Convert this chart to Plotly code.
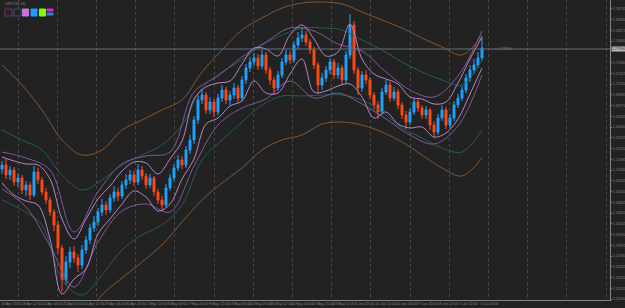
import plotly.graph_objects as go

# ---------------- data ----------------
open_ = [1.2550,1.2558,1.2538,1.2548,1.2524,1.2532,1.2508,1.2518,1.2498,1.2544,
         1.2528,1.2504,1.2488,1.2464,1.2438,1.2392,1.2328,1.2364,1.2384,1.2372,
         1.2358,1.2388,1.2408,1.2432,1.2444,1.2464,1.2478,1.2468,1.2492,1.2504,
         1.2496,1.2518,1.2528,1.2538,1.2524,1.2548,1.2536,1.2518,1.2532,1.2504,
         1.2488,1.2478,1.2512,1.2532,1.2552,1.2568,1.2558,1.2588,1.2608,1.2648,
         1.2688,1.2698,1.2668,1.2684,1.2664,1.2692,1.2708,1.2688,1.2698,1.2712,
         1.2692,1.2728,1.2752,1.2764,1.2772,1.2756,1.2778,1.2748,1.2728,1.2712,
         1.2738,1.2764,1.2778,1.2768,1.2798,1.2812,1.2818,1.2804,1.2788,1.2758,
         1.2718,1.2732,1.2748,1.2764,1.2738,1.2752,1.2728,1.2778,1.2838,1.2748,
         1.2712,1.2738,1.2728,1.2698,1.2678,1.2664,1.2704,1.2718,1.2692,1.2704,
         1.2678,1.2658,1.2644,1.2664,1.2684,1.2672,1.2658,1.2668,1.2638,1.2624,
         1.2652,1.2668,1.2638,1.2652,1.2678,1.2692,1.2708,1.2732,1.2748,1.2758,
         1.2772]
high = [1.2566,1.2570,1.2556,1.2554,1.2542,1.2538,1.2526,1.2524,1.2556,1.2552,
        1.2534,1.2512,1.2494,1.2470,1.2446,1.2398,1.2376,1.2394,1.2396,1.2380,
        1.2398,1.2416,1.2440,1.2456,1.2472,1.2490,1.2486,1.2500,1.2516,1.2512,
        1.2526,1.2540,1.2548,1.2546,1.2560,1.2556,1.2542,1.2540,1.2536,1.2510,
        1.2496,1.2520,1.2540,1.2560,1.2578,1.2576,1.2596,1.2618,1.2656,1.2698,
        1.2710,1.2704,1.2694,1.2690,1.2700,1.2718,1.2714,1.2706,1.2722,1.2718,
        1.2736,1.2760,1.2774,1.2782,1.2780,1.2788,1.2784,1.2754,1.2734,1.2746,
        1.2772,1.2788,1.2786,1.2806,1.2824,1.2834,1.2826,1.2810,1.2794,1.2764,
        1.2742,1.2756,1.2772,1.2770,1.2762,1.2758,1.2786,1.2860,1.2846,1.2754,
        1.2746,1.2748,1.2734,1.2704,1.2686,1.2712,1.2728,1.2724,1.2714,1.2710,
        1.2684,1.2666,1.2672,1.2692,1.2690,1.2678,1.2676,1.2672,1.2646,1.2660,
        1.2678,1.2674,1.2660,1.2686,1.2700,1.2716,1.2740,1.2758,1.2770,1.2784,
        1.2812]
low = [1.2540,1.2530,1.2528,1.2516,1.2514,1.2500,1.2496,1.2488,1.2494,1.2520,
       1.2498,1.2480,1.2456,1.2426,1.2380,1.2304,1.2318,1.2352,1.2362,1.2344,
       1.2350,1.2380,1.2400,1.2424,1.2436,1.2456,1.2458,1.2462,1.2484,1.2486,
       1.2490,1.2510,1.2520,1.2516,1.2518,1.2528,1.2510,1.2512,1.2496,1.2480,
       1.2468,1.2472,1.2506,1.2526,1.2546,1.2550,1.2552,1.2580,1.2600,1.2640,
       1.2680,1.2660,1.2660,1.2654,1.2658,1.2684,1.2680,1.2678,1.2690,1.2684,
       1.2686,1.2720,1.2744,1.2756,1.2748,1.2750,1.2740,1.2718,1.2700,1.2706,
       1.2732,1.2758,1.2760,1.2762,1.2790,1.2804,1.2796,1.2780,1.2750,1.2700,
       1.2708,1.2724,1.2740,1.2730,1.2730,1.2718,1.2722,1.2770,1.2740,1.2698,
       1.2704,1.2720,1.2690,1.2668,1.2650,1.2658,1.2698,1.2684,1.2686,1.2670,
       1.2650,1.2630,1.2638,1.2658,1.2664,1.2650,1.2650,1.2628,1.2612,1.2618,
       1.2646,1.2630,1.2632,1.2646,1.2672,1.2686,1.2702,1.2724,1.2740,1.2752,
       1.2766]
close = [1.2558,1.2538,1.2548,1.2524,1.2532,1.2508,1.2518,1.2498,1.2544,1.2528,
         1.2504,1.2488,1.2464,1.2438,1.2392,1.2328,1.2364,1.2384,1.2372,1.2358,
         1.2388,1.2408,1.2432,1.2444,1.2464,1.2478,1.2468,1.2492,1.2504,1.2496,
         1.2518,1.2528,1.2538,1.2524,1.2548,1.2536,1.2518,1.2532,1.2504,1.2488,
         1.2478,1.2512,1.2532,1.2552,1.2568,1.2558,1.2588,1.2608,1.2648,1.2688,
         1.2698,1.2668,1.2684,1.2664,1.2692,1.2708,1.2688,1.2698,1.2712,1.2692,
         1.2728,1.2752,1.2764,1.2772,1.2756,1.2778,1.2748,1.2728,1.2712,1.2738,
         1.2764,1.2778,1.2768,1.2798,1.2812,1.2818,1.2804,1.2788,1.2758,1.2718,
         1.2732,1.2748,1.2764,1.2738,1.2752,1.2728,1.2778,1.2838,1.2748,1.2712,
         1.2738,1.2728,1.2698,1.2678,1.2664,1.2704,1.2718,1.2692,1.2704,1.2678,
         1.2658,1.2644,1.2664,1.2684,1.2672,1.2658,1.2668,1.2638,1.2624,1.2652,
         1.2668,1.2638,1.2652,1.2678,1.2692,1.2708,1.2732,1.2748,1.2758,1.2772,
         1.2792]

# outer (brown) channel, sampled every 5 bars
brown_upper = [1.2758,1.2718,1.2668,1.2608,1.2578,1.2588,1.2628,1.2648,1.2668,1.2688,
               1.2744,1.2788,1.2828,1.2852,1.2872,1.2882,1.2884,1.2880,1.2864,1.2848,
               1.2832,1.2812,1.2794,1.2778,1.2818]
brown_lower = [1.2208,1.2198,1.2188,1.2198,1.2248,1.2298,1.2332,1.2364,1.2398,1.2444,
               1.2488,1.2522,1.2552,1.2588,1.2608,1.2618,1.2640,1.2644,1.2638,1.2624,
               1.2604,1.2578,1.2552,1.2536,1.2572]
# middle (teal) channel, sampled every 5 bars
teal_upper = [1.2628,1.2608,1.2588,1.2538,1.2508,1.2528,1.2558,1.2578,1.2598,1.2638,
              1.2712,1.2744,1.2768,1.2798,1.2818,1.2832,1.2832,1.2828,1.2808,1.2788,
              1.2764,1.2744,1.2728,1.2718,1.2768]
teal_lower = [1.2488,1.2468,1.2438,1.2328,1.2298,1.2338,1.2388,1.2418,1.2438,1.2478,
              1.2568,1.2608,1.2644,1.2678,1.2696,1.2696,1.2698,1.2698,1.2688,1.2664,
              1.2632,1.2612,1.2592,1.2584,1.2628]
# inner (pink) envelope, sampled every 3 bars
pink_upper = [1.2574,1.2566,1.2560,1.2558,1.2530,1.2450,1.2410,1.2450,1.2490,1.2516,
              1.2546,1.2564,1.2562,1.2540,1.2570,1.2606,1.2690,1.2714,1.2722,1.2726,
              1.2760,1.2792,1.2790,1.2776,1.2818,1.2838,1.2810,1.2776,1.2784,1.2840,
              1.2770,1.2740,1.2730,1.2720,1.2694,1.2690,1.2680,1.2684,1.2722,1.2770,
              1.2814]
pink_lower = [1.2522,1.2498,1.2486,1.2478,1.2410,1.2300,1.2330,1.2350,1.2420,1.2450,
              1.2480,1.2506,1.2494,1.2466,1.2480,1.2530,1.2570,1.2640,1.2652,1.2676,
              1.2686,1.2726,1.2702,1.2702,1.2740,1.2770,1.2704,1.2706,1.2716,1.2720,
              1.2694,1.2652,1.2664,1.2640,1.2632,1.2634,1.2614,1.2622,1.2650,1.2700,
              1.2752]
# second (wider) pink envelope, sampled every 6 bars
pink2_upper = [1.2584,1.2572,1.2548,1.2424,1.2504,1.2560,1.2576,1.2584,1.2704,1.2736,
               1.2774,1.2804,1.2832,1.2826,1.2800,1.2786,1.2744,1.2708,1.2694,1.2736,
               1.2826]
pink2_lower = [1.2510,1.2474,1.2396,1.2314,1.2404,1.2466,1.2480,1.2464,1.2556,1.2638,
               1.2672,1.2690,1.2726,1.2692,1.2702,1.2680,1.2650,1.2618,1.2600,1.2636,
               1.2738]

current_price = 1.27900
price_ticks_start = 1.22900
price_tick_step = 0.00215

time_labels = ["16 Apr 2024","18 Apr 12:00","22 Apr 04:00","23 Apr 20:00","25 Apr 12:00",
               "29 Apr 04:00","30 Apr 20:00","2 May 12:00","6 May 04:00","7 May 20:00",
               "9 May 12:00","13 May 04:00","14 May 20:00","16 May 12:00","20 May 04:00",
               "21 May 20:00","23 May 12:00","5 Jun 20:00","10 Jun 12:00","12 Jun 04:00",
               "17 Jun 20:00","19 Jun 12:00","1 Jul 12:00","3 Jul 04:00"]

# ---------------- figure ----------------
n = len(close)
bars = list(range(n))
x5 = bars[::5]
x3 = bars[::3]
x6 = bars[::6]

BG = "#222222"
AX = "#858585"
fig = go.Figure()

def band(xs, ys, color, width=1):
    fig.add_trace(go.Scatter(x=xs, y=ys, mode="lines",
                             line=dict(color=color, width=width, shape="spline", smoothing=1.0),
                             hoverinfo="skip", showlegend=False))

band(x5, brown_upper, "#85562f")
band(x5, brown_lower, "#85562f")
band(x5, teal_upper, "#215f57")
band(x5, teal_lower, "#215f57")
band(x6, pink2_upper, "#84569a")
band(x6, pink2_lower, "#84569a")

fig.add_trace(go.Candlestick(
    x=bars, open=open_, high=high, low=low, close=close,
    increasing=dict(line=dict(color="#1fa2ff", width=1), fillcolor="#1fa2ff"),
    decreasing=dict(line=dict(color="#ff4a14", width=1), fillcolor="#ff4a14"),
    whiskerwidth=0, showlegend=False, hoverinfo="skip"))

band(x3, pink_upper, "#b486c6")
band(x3, pink_lower, "#b486c6")

# current price line
fig.add_hline(y=current_price, line=dict(color="#5d7284", width=1))

label_pos = [2.25 + 5.2 * k for k in range(len(time_labels))]
grid_pos = [4 + 9.8 * k for k in range(16)]
price_ticks = [round(price_ticks_start + price_tick_step * k, 5) for k in range(28)]
price_ticks = [t for t in price_ticks if abs(t - current_price) > 0.0012]

fig.update_layout(
    width=625, height=308,
    margin=dict(l=0, r=15, t=0, b=8, autoexpand=False),
    paper_bgcolor=BG, plot_bgcolor=BG,
    font=dict(family="Liberation Sans Narrow, Liberation Sans, DejaVu Sans", size=4, color=AX),
    showlegend=False,
    xaxis=dict(range=[-0.5, 152], rangeslider=dict(visible=False),
               tickvals=label_pos, ticktext=time_labels, ticks="", showgrid=False,
               tickangle=0,
               showline=True, linecolor=AX, linewidth=1, zeroline=False,
               tickfont=dict(size=3.6, color=AX),
               minor=dict(tickvals=grid_pos, showgrid=True, gridcolor="#474747",
                          griddash="dot", gridwidth=1, ticks="")),
    yaxis=dict(range=[1.2288, 1.2888], side="right", tickvals=price_ticks,
               tickformat=".5f", ticks="outside", ticklen=1,
               tickcolor=AX, showline=True, linecolor=AX, linewidth=1,
               showgrid=False, zeroline=False, tickfont=dict(size=3.6, color=AX)),
)

# price tag on the right axis
fig.add_annotation(x=1.0, xref="paper", xanchor="left", y=current_price, yref="y",
                   text=f"{current_price:.5f}", showarrow=False, xshift=1,
                   bgcolor="#b8b8b8", font=dict(size=3.6, color="#222222"), borderpad=0)
fig.add_annotation(x=122.5, y=current_price, xref="x", yref="y", xanchor="left",
                   text="— 1.27900", showarrow=False,
                   font=dict(size=3.6, color=AX))

# symbol title and indicator swatches (top left)
fig.add_annotation(x=3 / 610, y=1, xref="paper", yref="paper", text="GBPUSD,H4",
                   showarrow=False, xanchor="left", yanchor="top",
                   font=dict(size=3.6, color="#7a7a7a"))

def px_rect(x0, y0, x1, y1, line, fill):
    fig.add_shape(type="rect", xref="paper", yref="paper",
                  x0=x0 / 610, x1=x1 / 610, y0=1 - y0 / 300, y1=1 - y1 / 300,
                  line=dict(color=line, width=1), fillcolor=fill, layer="above")

px_rect(5, 9, 12, 16, "#7b2a7b", BG)
px_rect(14, 9, 21, 16, "#2f5475", BG)
px_rect(22.5, 9, 28.5, 16, "#d070d6", "#d070d6")
px_rect(31, 9, 37, 16, "#1f9bff", "#1f9bff")
px_rect(39.5, 9, 45.5, 16, "#7fff00", "#7fff00")
px_rect(47, 9, 53, 11, "#e01fe0", "#e01fe0")
px_rect(47, 13, 53, 15, "#2a86c8", "#2a86c8")

fig.write_html("out.html")
